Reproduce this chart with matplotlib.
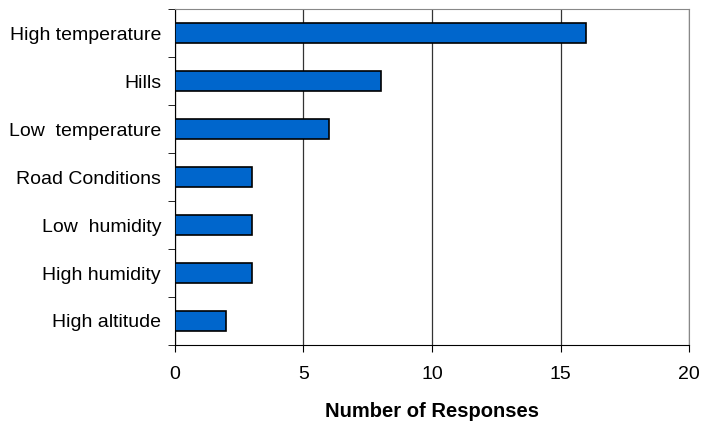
import numpy as np
import matplotlib.pyplot as plt

# categories listed top to bottom
categories = ['High temperature', 'Hills', 'Low  temperature', 'Road Conditions',
              'Low  humidity', 'High humidity', 'High altitude']
responses = [16, 8, 6, 3, 3, 3, 2]

plt.rcParams['font.family'] = ['Liberation Sans', 'DejaVu Sans']

fig = plt.figure(figsize=(7.01, 4.23), dpi=100)
ax = fig.add_axes([0.2496, 0.1844, 0.7334, 0.7943])

y = np.arange(len(categories))[::-1]
ax.barh(y, responses, height=0.4, color='#0066CC', edgecolor='black', linewidth=1.2, zorder=3)

ax.set_xlim(0, 20)
ax.set_ylim(-0.5, len(categories) - 0.5)
ax.set_xticks([0, 5, 10, 15, 20])
ax.xaxis.grid(True, color='#333333', linewidth=0.9, zorder=0)
ax.tick_params(axis='x', labelsize=14, length=5, direction='out', pad=10)

ax.set_yticks(y)
ax.set_yticklabels(categories, fontsize=14)
ax.tick_params(axis='y', which='major', length=0, pad=10)
ax.set_yticks(np.arange(-0.5, len(categories)), minor=True)
ax.tick_params(axis='y', which='minor', length=5, direction='out')

for side in ['top', 'right']:
    ax.spines[side].set_color('#888888')
for side in ['left', 'bottom']:
    ax.spines[side].set_color('black')

ax.set_xlabel('Number of Responses', fontsize=14.5, fontweight='bold', labelpad=14)

fig.savefig('out.png', dpi=100)
